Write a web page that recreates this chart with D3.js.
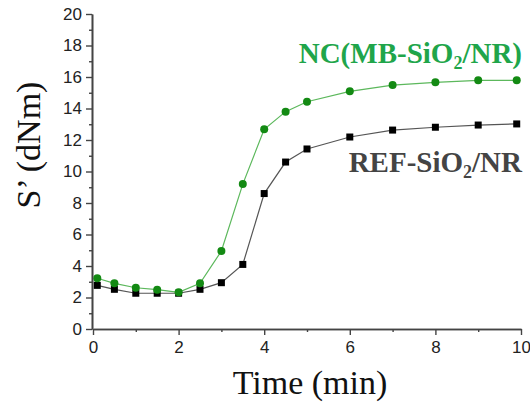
<!DOCTYPE html>
<html>
<head>
<meta charset="utf-8">
<script src="https://cdn.jsdelivr.net/npm/d3@7/dist/d3.min.js"></script>
<style>
  html, body { margin: 0; padding: 0; background: #fff; }
  svg { display: block; }
</style>
</head>
<body>
<svg id="chart" width="530" height="405"></svg>
<script>
// Cure curves: storage torque S' vs time
const timeRef = [0.1, 0.5, 1, 1.5, 2, 2.5, 3, 3.5, 4, 4.5, 5, 6, 7, 8, 9, 9.9];
const torqueRef = [2.77, 2.52, 2.27, 2.27, 2.27, 2.52, 2.94, 4.1, 8.6, 10.6, 11.43, 12.19, 12.63, 12.81, 12.95, 13.02];

const timeNC = [0.1, 0.5, 1, 1.5, 2, 2.5, 3, 3.5, 4, 4.5, 5, 6, 7, 8, 9, 9.9];
const torqueNC = [3.22, 2.9, 2.62, 2.5, 2.33, 2.9, 4.95, 9.2, 12.68, 13.8, 14.43, 15.09, 15.49, 15.66, 15.79, 15.79];

const xTicks = [0, 2, 4, 6, 8, 10];
const yTicks = [0, 2, 4, 6, 8, 10, 12, 14, 16, 18, 20];

const svg = d3.select("#chart");
const x = d3.scaleLinear().domain([0, 10]).range([93, 521]);
const y = d3.scaleLinear().domain([0, 20]).range([329, 14]);

const axisColor = "#444";

// Y axis with minor ticks
const yAxis = svg.append("g").attr("transform", `translate(${x(0) - 1},0)`);
yAxis.call(d3.axisLeft(y).tickValues(yTicks).tickSize(6).tickPadding(4).tickSizeOuter(0));
yAxis.append("g").call(d3.axisLeft(y).tickValues(d3.range(1, 20, 2)).tickSize(3).tickFormat("").tickSizeOuter(0));

// X axis with minor ticks
const xAxis = svg.append("g").attr("transform", `translate(0,${y(0)})`);
xAxis.call(d3.axisBottom(x).tickValues(xTicks).tickSize(6).tickPadding(6).tickSizeOuter(0));
xAxis.append("g").call(d3.axisBottom(x).tickValues(d3.range(1, 10, 2)).tickSize(3).tickFormat("").tickSizeOuter(0));

svg.selectAll(".domain").attr("stroke", axisColor).attr("stroke-width", 1.6);
svg.selectAll(".tick line").attr("stroke", axisColor).attr("stroke-width", 1.4);
svg.selectAll(".tick text")
  .attr("fill", "#222")
  .style("font-family", "'Liberation Sans', Arial, sans-serif")
  .style("font-size", "17px");

// Series
const line = d3.line().x(d => x(d[0])).y(d => y(d[1]));
const refPts = timeRef.map((t, i) => [t, torqueRef[i]]);
const ncPts = timeNC.map((t, i) => [t, torqueNC[i]]);

svg.append("path").datum(refPts)
  .attr("d", line).attr("fill", "none").attr("stroke", "#555").attr("stroke-width", 1.2);
svg.append("path").datum(ncPts)
  .attr("d", line).attr("fill", "none").attr("stroke", "#5cb85c").attr("stroke-width", 1.2);

svg.selectAll(".ref-pt").data(refPts).enter().append("rect")
  .attr("x", d => x(d[0]) - 3.5).attr("y", d => y(d[1]) - 3.5)
  .attr("width", 7).attr("height", 7).attr("fill", "#000");
svg.selectAll(".nc-pt").data(ncPts).enter().append("circle")
  .attr("cx", d => x(d[0])).attr("cy", d => y(d[1])).attr("r", 4)
  .attr("fill", "#138a13");

// Series labels
const serif = "'Liberation Serif', 'Times New Roman', serif";
const ncLabel = svg.append("text").attr("x", 522).attr("y", 63)
  .attr("text-anchor", "end").attr("fill", "#20a54a")
  .style("font-family", serif).style("font-weight", "bold").style("font-size", "29px");
ncLabel.append("tspan").text("NC(MB-SiO");
ncLabel.append("tspan").attr("dy", 6).style("font-size", "18px").text("2");
ncLabel.append("tspan").attr("dy", -6).text("/NR)");

const refLabel = svg.append("text").attr("x", 522).attr("y", 172)
  .attr("text-anchor", "end").attr("fill", "#444")
  .style("font-family", serif).style("font-weight", "bold").style("font-size", "29px");
refLabel.append("tspan").text("REF-SiO");
refLabel.append("tspan").attr("dy", 6).style("font-size", "18px").text("2");
refLabel.append("tspan").attr("dy", -6).text("/NR");

// Axis titles
svg.append("text")
  .attr("transform", "translate(40,145) rotate(-90)")
  .attr("text-anchor", "middle").attr("fill", "#111")
  .style("font-family", serif).style("font-size", "34px")
  .text("S\u2019 (dNm)");

svg.append("text")
  .attr("x", 310).attr("y", 394)
  .attr("text-anchor", "middle").attr("fill", "#111")
  .style("font-family", serif).style("font-size", "34px")
  .text("Time (min)");
</script>
</body>
</html>
